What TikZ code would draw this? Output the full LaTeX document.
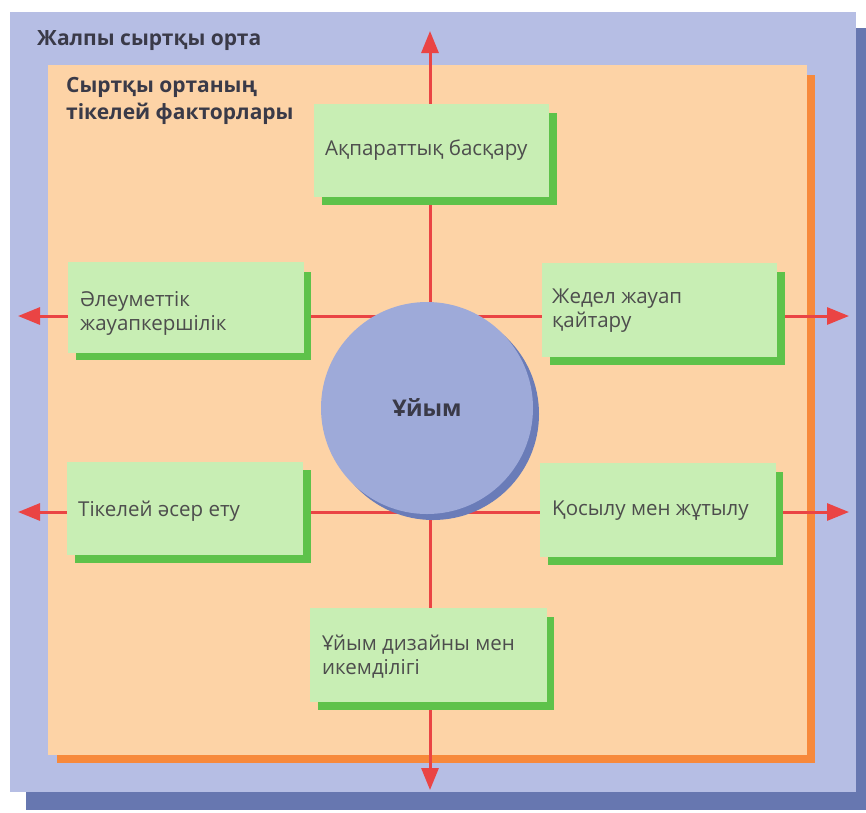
\documentclass[tikz,border=0pt]{standalone}
\usepackage{fontspec}
\setmainfont{Open Sans}
\usetikzlibrary{arrows.meta}

\definecolor{envblue}{HTML}{B6BEE4}
\definecolor{envshadow}{HTML}{6777B0}
\definecolor{peach}{HTML}{FDD3A6}
\definecolor{peachedge}{HTML}{F7893B}
\definecolor{boxgreen}{HTML}{C8EEB4}
\definecolor{boxshadow}{HTML}{5EC24A}
\definecolor{orgblue}{HTML}{9EAAD9}
\definecolor{orgshadow}{HTML}{6A7CB8}
\definecolor{flowred}{HTML}{EA4444}
\definecolor{labeltext}{HTML}{4D4D4D}
\definecolor{titletext}{HTML}{3A3A48}

\tikzset{
  flow/.style={draw=flowred, line width=3pt,
    -{Triangle[length=22pt,width=17pt]}},
  factorshadow/.style={fill=boxshadow, draw=none},
  factortext/.style={anchor=west, align=left, text=labeltext,
    font=\fontsize{20.5}{24}\selectfont, inner sep=0pt},
  heading/.style={anchor=west, align=left, text=titletext,
    font=\bfseries\fontsize{21}{27}\selectfont, inner sep=0pt},
}

\begin{document}
\begin{tikzpicture}[x=1pt, y=-1pt]
\useasboundingbox (0,0) rectangle (866,812);
\fill[white] (0,0) rectangle (866,812);

% general environment: blue panel with a dark drop shadow
\fill[envshadow] (26,28) rectangle (866,810);
\fill[envblue] (10,12) rectangle (856,792);
\node[heading] (general) at (37,41) {Жалпы сыртқы орта};

% immediate environment: peach panel with an orange edge
\fill[peachedge] (57,75) rectangle (815,763);
\fill[peach] (48,65) rectangle (807,755);
\node[heading] (direct) at (66,101) {Сыртқы ортаның\\тікелей факторлары};

% centre points and arrow ends
\coordinate (cx) at (430,410);
\coordinate (tup) at (430,31);
\coordinate (tdown) at (430,790);
\coordinate (rowA) at (430,316);
\coordinate (rowB) at (430,512);
\coordinate (lA) at (18,316);
\coordinate (rA) at (849,316);
\coordinate (lB) at (18,512);
\coordinate (rB) at (849,512);

% red arrows running behind the boxes
\draw[flow] (cx) -- (tup);
\draw[flow] (cx) -- (tdown);
\draw[flow] (rowA) -- (lA);
\draw[flow] (rowA) -- (rA);
\draw[flow] (rowB) -- (lB);
\draw[flow] (rowB) -- (rB);

% the organisation
\fill[orgshadow] (433,414) circle (106);
\node[circle, fill=orgblue, minimum size=212pt, inner sep=0pt,
  text=titletext, font=\bfseries\fontsize{23}{26}\selectfont] (org) at (427,408) {Ұйым};

% factor boxes: shadow first, then the box, then its label
% top
\fill[factorshadow] (322,113) rectangle (557,205);
\fill[boxgreen] (314,104) rectangle (549,197);
\node[factortext] (info) at (325,150) {Ақпараттық басқару};
% upper left
\fill[factorshadow] (76,272) rectangle (311,360);
\fill[boxgreen] (68,262) rectangle (304,353);
\node[factortext] (social) at (80,313) {Әлеуметтік\\жауапкершілік};
% upper right
\fill[factorshadow] (550,272) rectangle (785,365);
\fill[boxgreen] (542,263) rectangle (777,357);
\node[factortext] (response) at (552,311) {Жедел жауап\\қайтару};
% lower left
\fill[factorshadow] (75,470) rectangle (311,563);
\fill[boxgreen] (67,462) rectangle (303,555);
\node[factortext] (influence) at (78,511) {Тікелей әсер ету};
% lower right
\fill[factorshadow] (548,472) rectangle (783,565);
\fill[boxgreen] (540,463) rectangle (776,557);
\node[factortext] (merger) at (552,511) {Қосылу мен жұтылу};
% bottom
\fill[factorshadow] (318,617) rectangle (554,710);
\fill[boxgreen] (310,608) rectangle (547,702);
\node[factortext] (design) at (322,657) {Ұйым дизайны мен\\икемділігі};
\end{tikzpicture}
\end{document}
